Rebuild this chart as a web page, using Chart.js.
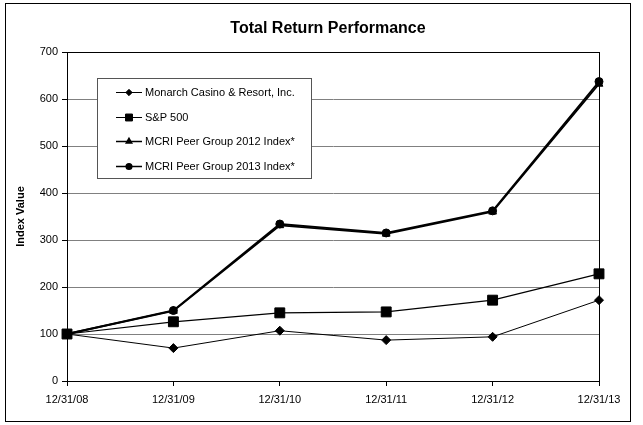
<!DOCTYPE html>
<html>
<head>
<meta charset="utf-8">
<script src="https://cdn.jsdelivr.net/npm/chart.js@4"></script>
<style>
html,body{margin:0;padding:0;background:#fff;}
#wrap{width:643px;height:425px;position:relative;}
</style>
</head>
<body>
<div id="wrap"><canvas id="c" width="643" height="425"></canvas></div>
<script>
const categories = ['12/31/08','12/31/09','12/31/10','12/31/11','12/31/12','12/31/13'];
const monarch = [100, 70, 107, 87, 94, 172];
const sp500 = [100, 126, 145, 147, 172, 228];
const peer2012 = [100, 149, 331, 313, 360, 632];
const peer2013 = [100, 150, 334, 315, 362, 637];
const seriesNames = ['Monarch Casino & Resort, Inc.', 'S&P 500', 'MCRI Peer Group 2012 Index*', 'MCRI Peer Group 2013 Index*'];
const yTicks = [0, 100, 200, 300, 400, 500, 600, 700];
const chartTitle = 'Total Return Performance';

const FONT = 'Liberation Sans, Arial, sans-serif';

const frame = {
  id: 'frame',
  beforeDraw(chart) {
    const ctx = chart.ctx;
    ctx.save();
    ctx.fillStyle = '#fff';
    ctx.fillRect(0, 0, chart.width, chart.height);
    ctx.strokeStyle = '#000';
    ctx.lineWidth = 1;
    ctx.strokeRect(5.5, 3.5, 625, 418);
    ctx.font = 'bold 16px ' + FONT;
    ctx.fillStyle = '#000';
    ctx.textAlign = 'center';
    ctx.textBaseline = 'middle';
    ctx.fillText(chart.options.plugins.frame.title, 328, 29);
    ctx.restore();
  },
  afterDatasetsDraw(chart) {
    const a = chart.chartArea, ctx = chart.ctx;
    ctx.save();
    ctx.strokeStyle = '#000';
    ctx.lineWidth = 1;
    ctx.strokeRect(Math.round(a.left) + 0.5, Math.round(a.top) + 0.5, Math.round(a.right - a.left), Math.round(a.bottom - a.top));
    ctx.restore();
  }
};

const boxLegend = {
  id: 'boxLegend',
  afterDraw(chart) {
    const ctx = chart.ctx;
    const x0 = 97, y0 = 78, w = 214, h = 100;
    ctx.save();
    ctx.fillStyle = '#fff';
    ctx.fillRect(x0, y0, w, h);
    ctx.strokeStyle = '#555';
    ctx.lineWidth = 1;
    ctx.strokeRect(x0 + 0.5, y0 + 0.5, w, h);
    ctx.font = '11px ' + FONT;
    ctx.textBaseline = 'middle';
    chart.data.datasets.forEach((ds, i) => {
      const y = 92 + i * 24.7;
      ctx.strokeStyle = '#000';
      ctx.lineWidth = ds.borderWidth > 1.5 ? 1.5 : 1;
      ctx.beginPath();
      ctx.moveTo(116, Math.round(y) + 0.5);
      ctx.lineTo(142, Math.round(y) + 0.5);
      ctx.stroke();
      ctx.fillStyle = '#000';
      Chart.helpers.drawPoint(ctx, {
        pointStyle: ds.pointStyle,
        radius: ds.pointRadius * 0.7,
        rotation: 0,
        borderWidth: 1
      }, 129, Math.round(y) + 0.5);
      ctx.fillStyle = '#000';
      ctx.fillText(ds.label, 145, y + 1);
    });
    ctx.restore();
  }
};

function mk(label, data, style, radius, width) {
  return {
    label, data,
    borderColor: '#000', backgroundColor: '#000',
    pointBackgroundColor: '#000', pointBorderColor: '#000',
    borderWidth: width, pointStyle: style, pointRadius: radius,
    pointBorderWidth: 1, tension: 0, fill: false
  };
}

new Chart(document.getElementById('c'), {
  type: 'line',
  data: {
    labels: categories,
    datasets: [
      mk(seriesNames[0], monarch, 'rectRot', 4.5, 1),
      mk(seriesNames[1], sp500, 'rect', 7, 1.2),
      mk(seriesNames[2], peer2012, 'triangle', 4.5, 1.8),
      mk(seriesNames[3], peer2013, 'circle', 4, 1.8)
    ]
  },
  options: {
    responsive: false,
    animation: false,
    devicePixelRatio: 1,
    layout: { padding: { left: 0, right: 44, top: 52, bottom: 0 } },
    plugins: {
      legend: { display: false },
      tooltip: { enabled: false },
      title: { display: false },
      frame: { title: chartTitle }
    },
    scales: {
      x: {
        type: 'category',
        offset: false,
        grid: { drawOnChartArea: false, drawTicks: true, tickLength: 5, tickColor: '#000' },
        border: { color: '#000', width: 1 },
        ticks: { color: '#000', font: { family: FONT, size: 11 }, maxRotation: 0, autoSkip: false, padding: 7 },
        afterFit(s) { s.height = 44; }
      },
      y: {
        min: 0, max: 700,
        afterBuildTicks(s) { s.ticks = yTicks.map(v => ({ value: v })); },
        grid: { color: '#808080', lineWidth: 1, drawTicks: true, tickLength: 5, tickColor: '#000' },
        border: { color: '#000', width: 1 },
        ticks: { color: '#000', font: { family: FONT, size: 11 }, padding: 4 },
        title: { display: true, text: 'Index Value', color: '#000', font: { family: FONT, size: 11, weight: 'bold' }, padding: { top: 14, bottom: 0 } },
        afterFit(s) { s.width = 67; }
      }
    }
  },
  plugins: [frame, boxLegend]
});
</script>
</body>
</html>
